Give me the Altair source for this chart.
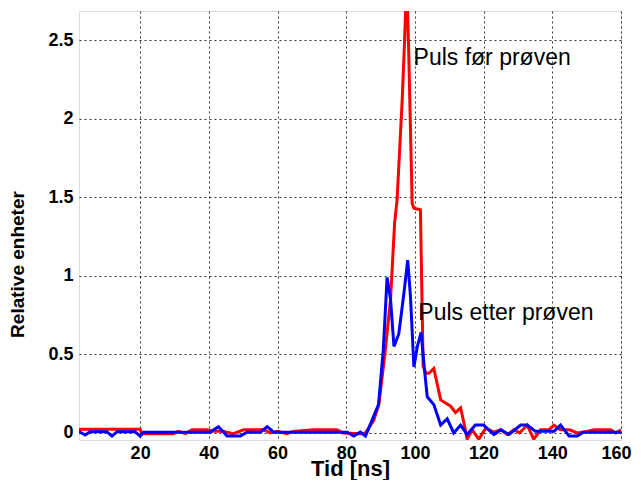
import altair as alt
import pandas as pd

red_x = [2.2, 2.5, 20, 20.5, 29.6, 31.1, 33.2, 35.1, 39.5, 41, 44, 47.2, 50.1, 56, 57.9, 60, 62.8,
         64.5, 70.5, 77.3, 79, 84.1, 85.6, 88, 89.5, 91.4, 92.9, 94.1, 94.8, 96.3, 97.0, 97.6, 98.2,
         99.2, 99.7, 101.6, 102.4, 103.3, 104.1, 105.5, 107.5, 110.4, 111.8, 113.3, 114.3, 115.2,
         116.7, 118.6, 120.6, 123, 125, 126.9, 128.8, 130.5, 132.7, 134.6, 136.6, 139, 140.5, 142.4,
         145, 147.3, 150, 152.2, 157, 158.5, 160]
red_y = [0.0, 0.024, 0.024, -0.005, -0.005, 0.01, -0.005, 0.02, 0.02, 0.01, 0.01, -0.005, 0.02, 0.02,
         0.0, 0.01, -0.005, 0.01, 0.02, 0.02, 0.0, -0.005, 0.0, 0.08, 0.18, 0.53, 0.85, 1.34, 1.48,
         2.12, 2.5, 2.9, 2.42, 1.46, 1.43, 1.42, 0.42, 0.38, 0.38, 0.41, 0.21, 0.17, 0.13, 0.16, 0.06,
         -0.04, 0.018, -0.04, 0.03, 0.005, 0.02, -0.01, 0.02, 0.0, 0.05, -0.04, 0.02, 0.02, 0.05, 0.02,
         0.02, 0.0, 0.01, 0.02, 0.02, 0.0, 0.02]

blue_x = [2.2, 4, 5.4, 10.3, 11.8, 13.3, 18.5, 20, 21, 40.3, 42.8, 45.3, 49.2, 51.1, 55, 57, 58.9,
          80.3, 82.2, 84.1, 85.6, 87.5, 89.4, 90.8, 91.9, 92.9, 93.9, 95.3, 96.8, 97.9, 98.7, 99.7,
          100.7, 101.8, 102.8, 103.6, 105.5, 107.5, 109.4, 111.3, 113.3, 115.2, 117.6, 120, 123, 125,
          127.4, 130.8, 132.7, 135.1, 140.5, 142.4, 144.9, 147.3, 149, 160]
blue_y = [0.008, -0.013, 0.008, 0.008, -0.02, 0.008, 0.008, -0.02, 0.005, 0.005, 0.04, -0.02, -0.02,
          0.005, 0.005, 0.04, 0.005, 0.005, -0.02, 0.005, -0.02, 0.08, 0.18, 0.53, 0.99, 0.85, 0.55,
          0.63, 0.89, 1.10, 0.87, 0.42, 0.55, 0.64, 0.40, 0.23, 0.18, 0.05, 0.09, 0.0, 0.05, -0.01,
          0.05, 0.05, -0.01, 0.02, -0.01, 0.05, 0.05, 0.01, 0.01, 0.05, -0.02, -0.02, 0.005, 0.005]

x_ticks = [20, 40, 60, 80, 100, 120, 140, 160]
y_ticks = [0, 0.5, 1, 1.5, 2, 2.5]

labels = ["Puls før prøven", "Puls etter prøven"]
label_x = [99.6, 101.0]
label_y = [2.34, 0.72]

red_df = pd.DataFrame({"t": red_x, "v": red_y})
blue_df = pd.DataFrame({"t": blue_x, "v": blue_y})
lab_df = pd.DataFrame({"t": label_x, "v": label_y, "txt": labels})

FONT = "Liberation Sans"
xs = alt.Scale(domain=[2.2, 160], nice=False, zero=False)
ys = alt.Scale(domain=[-0.045, 2.685], nice=False, zero=False)

xax = alt.Axis(values=x_ticks, title="Tid [ns]", grid=True, gridColor="black", gridDash=[2, 3],
               gridWidth=1, gridOpacity=0.8, ticks=False, domain=False, labelFont=FONT,
               labelFontSize=18, labelFontWeight="bold", labelColor="black", labelPadding=18,
               labelBaseline="alphabetic", titleFont=FONT, titleFontSize=22,
               titleFontWeight="bold", titleColor="black", titleBaseline="alphabetic",
               titleY=35, titleAlign="center", labelFlush=1, labelFlushOffset=10)
yax = alt.Axis(values=y_ticks, title="Relative enheter", grid=True, gridColor="black",
               gridDash=[2, 3], gridWidth=1, gridOpacity=0.8, ticks=False, domain=False,
               format="~g", labelFont=FONT, labelFontSize=18, labelFontWeight="bold",
               labelColor="black", labelPadding=6, titleFont=FONT, titleFontSize=19,
               titleFontWeight="bold", titleColor="black", titleX=-52, titleY=253,
               titleAlign="center")

red = alt.Chart(red_df).mark_line(color="#ff0000", strokeWidth=3, clip=True).encode(
    x=alt.X("t:Q", scale=xs, axis=xax),
    y=alt.Y("v:Q", scale=ys, axis=yax),
)
blue = alt.Chart(blue_df).mark_line(color="#0000ff", strokeWidth=3, clip=True).encode(
    x=alt.X("t:Q", scale=xs),
    y=alt.Y("v:Q", scale=ys),
)
txt = alt.Chart(lab_df).mark_text(align="left", baseline="alphabetic", font=FONT, fontSize=23,
                                  color="black").encode(
    x=alt.X("t:Q", scale=xs),
    y=alt.Y("v:Q", scale=ys),
    text="txt:N",
)

chart = (red + blue + txt).properties(
    width=542, height=429,
    autosize=alt.AutoSizeParams(type="none"),
    padding={"left": 71, "top": 3, "right": 12, "bottom": 40},
).configure_view(stroke="#808080", strokeWidth=1).configure(background="white")

chart.save("out.html", embed_options={"renderer": "svg", "actions": False})
